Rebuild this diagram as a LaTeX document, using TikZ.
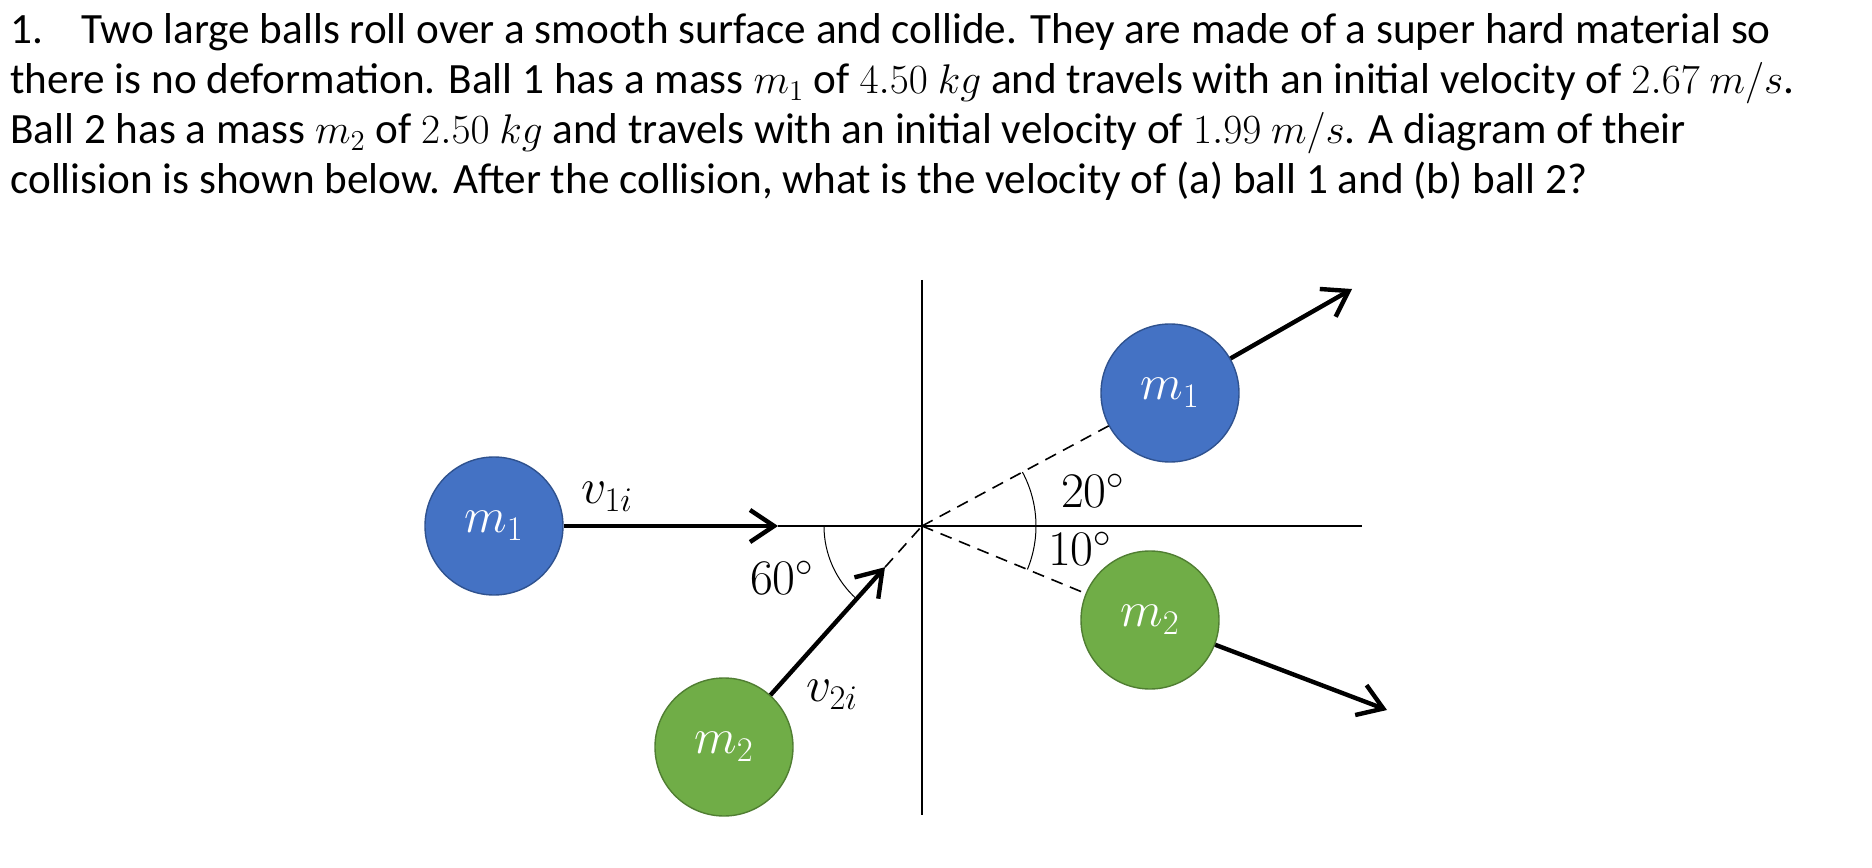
\documentclass[tikz,border=0pt]{standalone}
\usepackage{fontspec}
\setmainfont{Carlito}
\usetikzlibrary{arrows.meta}
\definecolor{ballblue}{HTML}{4472C4}
\definecolor{ballblueline}{HTML}{2F528F}
\definecolor{ballgreen}{HTML}{70AD47}
\definecolor{ballgreenline}{HTML}{507E32}
\begin{document}
\begin{tikzpicture}[x=1pt,y=1pt,
	massball/.style={circle,minimum size=69pt,inner sep=0pt,line width=.7pt,text=white,font=\fontsize{26}{30}\selectfont},
	blueball/.style={massball,draw=ballblueline,fill=ballblue},
	greenball/.style={massball,draw=ballgreenline,fill=ballgreen},
	vel/.style={line width=2.2pt,-{Straight Barb[length=12pt,width=16pt]}},
	guide/.style={dash pattern=on 6pt off 4pt,line width=.8pt},
	lbl/.style={inner sep=1pt,font=\fontsize{24}{28}\selectfont},
	vlbl/.style={font=\fontsize{26}{30}\selectfont},
	txt/.style={anchor=base west,inner sep=0pt,font=\fontsize{21.6}{26}\selectfont}]
		\useasboundingbox (-461,-170.5) rectangle (475,263);
		
		\node[txt] (line1) at (-456,241) {\makebox[35.5pt][l]{1.}Two large balls roll over a smooth surface and collide. They are made of a super hard material so};
		\node[txt] (line2) at (-456,216) {there is no deformation. Ball 1 has a mass $m_1$ of $4.50\ kg$ and travels with an initial velocity of $2.67\ m/s$.};
		\node[txt] (line3) at (-456,191) {Ball 2 has a mass $m_2$ of $2.50\ kg$ and travels with an initial velocity of $1.99\ m/s$. A diagram of their};
		\node[txt] (line4) at (-456,166) {collision is shown below. After the collision, what is the velocity of (a) ball 1 and (b) ball 2?};
		
		\coordinate (O) at (0,0);
		\coordinate (ytop) at (0,123); \coordinate (ybot) at (0,-144.5);
		\coordinate (v1tip) at (-72,0); \coordinate (xend) at (220,0);
		\coordinate (v2tip) at (-18.5,-20.6);
		\coordinate (v1ftip) at (215,118.5); \coordinate (v2ftip) at (232.5,-92);
		
		\draw[line width=1.1pt] (ytop) -- (ybot);
		\draw[line width=.9pt] (v1tip) -- (xend);
		
		\node[blueball] (m1i) at (-214,0) {$m_1$};
		\node[greenball] (m2i) at (-99,-110.5) {$m_2$};
		\node[blueball] (m1f) at (124,66.5) {$m_1$};
		\node[greenball] (m2f) at (114,-47) {$m_2$};
		
		\draw[vel] (m1i) -- (v1tip);
		\draw[vel] (m2i) -- (v2tip); \draw[guide] (v2tip) -- (O);
		\draw[guide] (O) -- (m1f); \draw[vel] (m1f) -- (v1ftip);
		\draw[guide] (O) -- (m2f); \draw[vel] (m2f) -- (v2ftip);
		
		\draw[line width=.5pt] (180:49) arc[start angle=180,end angle=228.1,radius=49];
		\draw[line width=.5pt] (-22.4:57) arc[start angle=-22.4,end angle=28.2,radius=57];
		
		\node[vlbl] (v1i) at (-157.5,14.5) {$v_{1i}$};
		\node[vlbl] (v2i) at (-45,-84.5) {$v_{2i}$};
		\node[lbl] (a60) at (-70,-26) {$60^\circ$};
		\node[lbl] (a20) at (85.5,17.5) {$20^\circ$};
		\node[lbl] (a10) at (79,-11.5) {$10^\circ$};
\end{tikzpicture}
\end{document}
